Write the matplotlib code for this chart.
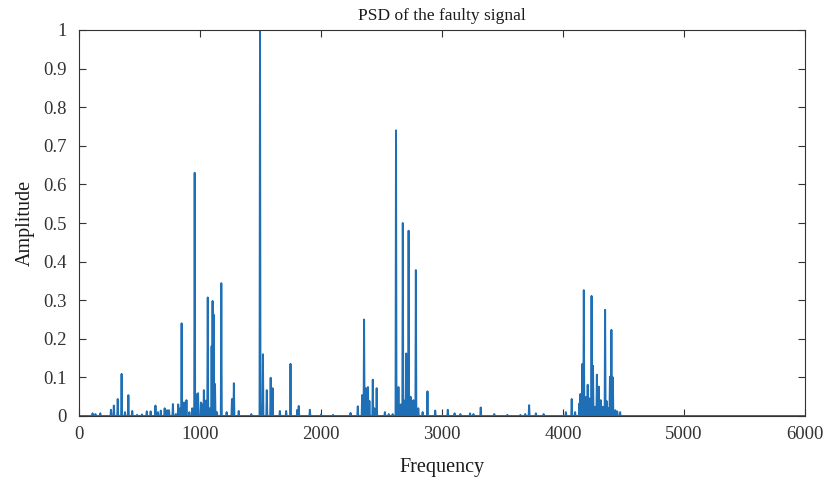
import numpy as np
import matplotlib
matplotlib.use("Agg")
import matplotlib.pyplot as plt
from matplotlib.ticker import FuncFormatter

# Peak frequencies (Hz) and amplitudes
peak_freq = [110, 138, 174, 262, 289, 320, 353, 380, 410, 441, 480, 520,
             559, 592, 634, 653, 675, 708, 730, 745, 774, 800, 821, 835, 849,
             868, 890, 910, 935, 956, 975, 986, 1008, 1020, 1033, 1048, 1063,
             1080, 1096, 1102, 1113, 1124, 1140, 1174, 1220, 1262, 1278, 1322,
             1425, 1496, 1507, 1521, 1551, 1584, 1598, 1661, 1711, 1749, 1805,
             1818, 1909, 2000, 2100, 2245, 2303, 2339, 2356, 2372, 2389, 2400,
             2427, 2440, 2460, 2529, 2560, 2590, 2620, 2642, 2660, 2675, 2690,
             2703, 2725, 2741, 2763, 2783, 2805, 2838, 2882, 2945, 3047, 3105,
             3150, 3231, 3260, 3319, 3430, 3540, 3650, 3690, 3719, 3777, 3840,
             4022, 4071, 4100, 4135, 4146, 4162, 4173, 4187, 4204, 4217, 4237,
             4248, 4264, 4281, 4297, 4311, 4328, 4347, 4361, 4375, 4388, 4402,
             4412, 4430, 4450, 4470]
peak_amp = [0.007, 0.005, 0.007, 0.016, 0.027, 0.044, 0.109, 0.010, 0.054,
            0.013, 0.003, 0.004, 0.012, 0.012, 0.027, 0.010, 0.014, 0.020,
            0.015, 0.015, 0.031, 0.005, 0.030, 0.020, 0.240, 0.035, 0.041,
            0.010, 0.020, 0.630, 0.057, 0.059, 0.035, 0.030, 0.067, 0.040,
            0.307, 0.020, 0.181, 0.298, 0.263, 0.083, 0.010, 0.344, 0.010,
            0.044, 0.085, 0.013, 0.005, 1.000, 0.025, 0.160, 0.067, 0.099,
            0.072, 0.013, 0.013, 0.135, 0.016, 0.026, 0.016, 0.004, 0.003,
            0.008, 0.025, 0.054, 0.250, 0.072, 0.075, 0.039, 0.094, 0.020,
            0.072, 0.010, 0.005, 0.005, 0.740, 0.075, 0.030, 0.500, 0.040,
            0.162, 0.480, 0.050, 0.041, 0.378, 0.020, 0.010, 0.064, 0.014,
            0.016, 0.007, 0.005, 0.007, 0.005, 0.022, 0.005, 0.003, 0.003,
            0.005, 0.028, 0.007, 0.005, 0.010, 0.044, 0.010, 0.033, 0.057,
            0.135, 0.326, 0.049, 0.081, 0.046, 0.311, 0.130, 0.024, 0.107,
            0.076, 0.041, 0.024, 0.275, 0.039, 0.020, 0.102, 0.223, 0.100,
            0.015, 0.012, 0.010]

x_ticks = [0, 1000, 2000, 3000, 4000, 5000, 6000]
y_ticks = [0, 0.1, 0.2, 0.3, 0.4, 0.5, 0.6, 0.7, 0.8, 0.9, 1]

# Frequency grid for drawing the spectrum line
step = 4
freq = np.arange(0, 6000 + step, step, dtype=float)
amp = np.zeros_like(freq)
for f, a in zip(peak_freq, peak_amp):
    idx = int(round(f / step))
    amp[idx] = max(amp[idx], a)

plt.rcParams['font.family'] = ['Liberation Serif', 'DejaVu Serif']

fig = plt.figure(figsize=(8.28, 4.83), dpi=100)
ax = fig.add_axes([79/828, 1 - 416/483, (805-79)/828, (416-30)/483])
ax.plot(freq, amp, color='#1f6fb6', linewidth=1.4)
ax.set_xlim(0, 6000)
ax.set_ylim(0, 1)
ax.set_xticks(x_ticks)
ax.set_yticks(y_ticks)
ax.yaxis.set_major_formatter(FuncFormatter(lambda v, p: f"{v:g}"))
ax.tick_params(direction='in', top=True, right=True, length=5, width=0.8,
               labelsize=13.5, colors='#333333')
ax.tick_params(axis='y', pad=9)
ax.tick_params(axis='x', pad=7)
for s in ax.spines.values():
    s.set_color('#333333')
    s.set_linewidth(0.8)
ax.set_title('PSD of the faulty signal', fontsize=12.5, pad=7, color='#1a1a1a')
ax.set_xlabel('Frequency', fontsize=14.5, color='#1a1a1a', labelpad=11)
ax.set_ylabel('Amplitude', fontsize=14.5, color='#1a1a1a', labelpad=6)
fig.savefig('out.png', dpi=100)
